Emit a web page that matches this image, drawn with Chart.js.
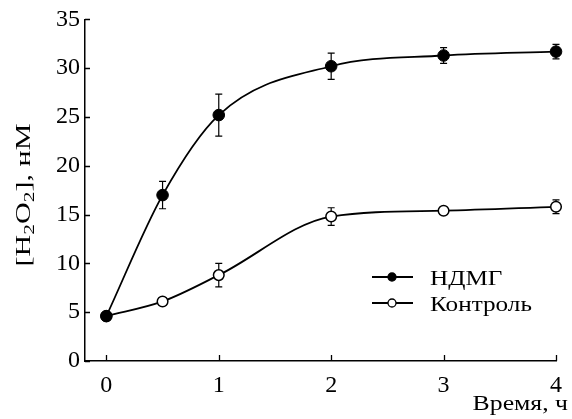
<!DOCTYPE html>
<html><head><meta charset="utf-8">
<script src="https://cdn.jsdelivr.net/npm/chart.js@4"></script>
<style>html,body{margin:0;padding:0;background:#fff}#wrap{width:572px;height:419px}
#probe{position:absolute;left:-1000px;top:0;font-family:'Liberation Serif';font-size:20px}</style>
</head><body><span id="probe">НДМГ Контроль 0123</span><div id="wrap"><canvas id="c" width="572" height="419"></canvas></div>
<script>
// ---- data ----
const timeHours = [0, 0.5, 1, 2, 3, 4];
const ndmgValues = [4.6, 17.0, 25.2, 30.2, 31.3, 31.7];
const ndmgErrors = [0, 1.4, 2.15, 1.35, 0.8, 0.75];
const controlValues = [4.6, 6.1, 8.8, 14.8, 15.4, 15.8];
const controlErrors = [0, 0, 1.2, 0.9, 0, 0.7];
const xTicks = [0, 1, 2, 3, 4];
const yTicks = [0, 5, 10, 15, 20, 25, 30, 35];
const seriesNames = ['НДМГ', 'Контроль'];
const xTitle = 'Время, ч';
const yTitleParts = [['[H', 0], ['2', 1], ['O', 0], ['2', 1], ['], нМ', 0]];

const FONT = "'Liberation Serif'";

function stretchText(ctx, text, x, y, sx, align) {
  ctx.save();
  ctx.translate(x, y);
  ctx.scale(sx, 1);
  ctx.textAlign = align;
  ctx.fillText(text, 0, 0);
  ctx.restore();
}

const errorBars = {
  id: 'errorBars',
  beforeDatasetsDraw(chart) {
    const { ctx, scales: { x, y } } = chart;
    ctx.save();
    ctx.strokeStyle = '#000';
    ctx.lineWidth = 1.2;
    [[ndmgValues, ndmgErrors], [controlValues, controlErrors]].forEach(([vals, errs]) => {
      vals.forEach((v, i) => {
        const e = errs[i];
        if (!e) return;
        const px = x.getPixelForValue(timeHours[i]);
        const top = y.getPixelForValue(v + e), bot = y.getPixelForValue(v - e);
        ctx.beginPath();
        ctx.moveTo(px, top); ctx.lineTo(px, bot);
        ctx.moveTo(px - 3.5, top); ctx.lineTo(px + 3.5, top);
        ctx.moveTo(px - 3.5, bot); ctx.lineTo(px + 3.5, bot);
        ctx.stroke();
      });
    });
    ctx.restore();
  }
};

const decor = {
  id: 'decor',
  afterDraw(chart) {
    const { ctx, scales: { x, y }, chartArea } = chart;
    ctx.save();
    ctx.strokeStyle = '#000';
    ctx.fillStyle = '#000';
    ctx.lineWidth = 1.3;
    // inward tick marks
    ctx.beginPath();
    xTicks.forEach(v => {
      const px = Math.round(x.getPixelForValue(v)) + 0.5;
      ctx.moveTo(px, chartArea.bottom); ctx.lineTo(px, chartArea.bottom - 6);
    });
    yTicks.forEach(v => {
      const py = Math.round(y.getPixelForValue(v)) + 0.5;
      ctx.moveTo(chartArea.left, py); ctx.lineTo(chartArea.left + 5, py);
    });
    ctx.stroke();

    // x title
    ctx.font = '22px ' + FONT;
    ctx.textBaseline = 'alphabetic';
    stretchText(ctx, xTitle, 568, 410, 1.17, 'right');

    // y title with subscripts (rotated)
    ctx.save();
    ctx.translate(30, 195);
    ctx.rotate(-Math.PI / 2);
    const big = '21px ' + FONT, small = '15px ' + FONT;
    let total = 0;
    yTitleParts.forEach(([t, sub]) => { ctx.font = sub ? small : big; total += ctx.measureText(t).width; });
    const sx = 143 / total;
    ctx.scale(sx, 1);
    let cx = -total / 2;
    ctx.textAlign = 'left';
    yTitleParts.forEach(([t, sub]) => {
      ctx.font = sub ? small : big;
      ctx.fillText(t, cx, sub ? 4 : 0);
      cx += ctx.measureText(t).width;
    });
    ctx.restore();

    // legend
    const rows = [
      { name: seriesNames[0], fill: '#000', y: 277 },
      { name: seriesNames[1], fill: '#fff', y: 303 }
    ];
    rows.forEach(r => {
      ctx.lineWidth = 1.8;
      ctx.beginPath();
      ctx.moveTo(372, r.y); ctx.lineTo(413, r.y);
      ctx.stroke();
      ctx.beginPath();
      ctx.arc(392, r.y, 4, 0, Math.PI * 2);
      ctx.fillStyle = r.fill;
      ctx.fill();
      ctx.lineWidth = 1.3;
      ctx.stroke();
      ctx.fillStyle = '#000';
      ctx.font = '21px ' + FONT;
      ctx.textBaseline = 'alphabetic';
      stretchText(ctx, r.name, 430, r.y + 8, 1.2, 'left');
    });
    ctx.restore();
  }
};

const commonLine = {
  borderColor: '#000', borderWidth: 1.8, pointBorderColor: '#000',
  cubicInterpolationMode: 'monotone', clip: false, fill: false
};

function build() {
  new Chart(document.getElementById('c'), {
    type: 'line',
    data: {
      datasets: [
        Object.assign({
          label: seriesNames[0],
          data: timeHours.map((t, i) => ({ x: t, y: ndmgValues[i] })),
          pointRadius: 5.8, pointBackgroundColor: '#000', pointBorderWidth: 1
        }, commonLine),
        Object.assign({
          label: seriesNames[1],
          data: timeHours.map((t, i) => ({ x: t, y: controlValues[i] })),
          pointRadius: 5.3, pointBackgroundColor: '#fff', pointBorderWidth: 1.5
        }, commonLine)
      ]
    },
    options: {
      responsive: false, animation: false, devicePixelRatio: 1,
      layout: { padding: { top: 19, right: 9, left: 0, bottom: 0 } },
      plugins: { legend: { display: false }, tooltip: { enabled: false } },
      scales: {
        x: {
          type: 'linear', min: -0.19, max: 4,
          afterBuildTicks(s) { s.ticks = xTicks.map(v => ({ value: v })); },
          afterFit(s) { s.height = 58; },
          grid: { display: false, drawTicks: false },
          border: { display: true, color: '#000', width: 1.5 },
          ticks: { color: '#000', font: { family: FONT, size: 24 }, padding: 10 }
        },
        y: {
          type: 'linear', min: 0, max: 35,
          afterBuildTicks(s) { s.ticks = yTicks.map(v => ({ value: v })); },
          afterFit(s) { s.width = 85; },
          grid: { display: false, drawTicks: false },
          border: { display: true, color: '#000', width: 1.5 },
          ticks: { color: '#000', font: { family: FONT, size: 24 }, padding: 5 }
        }
      }
    },
    plugins: [errorBars, decor]
  });
}
Promise.all([
  document.fonts.load("21px 'Liberation Serif'", 'НДМГ0123'),
  document.fonts.load("15px 'Liberation Serif'", '2')
]).then(build, build);
</script>
</body></html>
